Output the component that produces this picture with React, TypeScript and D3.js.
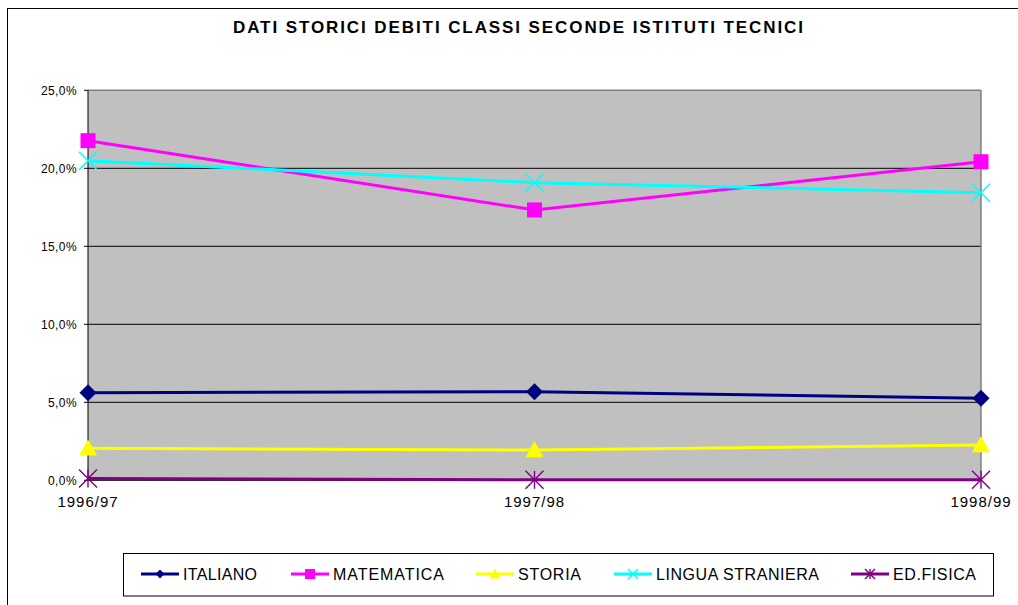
import React from "react";
import * as d3 from "d3";

const categories = ["1996/97", "1997/98", "1998/99"];
const seriesNames = ["ITALIANO", "MATEMATICA", "STORIA", "LINGUA STRANIERA", "ED.FISICA"];
const italiano = [0.0562, 0.0568, 0.0526];
const matematica = [0.2177, 0.1733, 0.2042];
const storia = [0.0205, 0.0194, 0.0226];
const linguaStraniera = [0.2049, 0.1908, 0.1844];
const edFisica = [0.0012, 0.0003, 0.0003];
const yTicks = [0, 0.05, 0.1, 0.15, 0.2, 0.25];
const title = "DATI STORICI DEBITI CLASSI SECONDE ISTITUTI TECNICI";

const colors = ["#000080", "#FF00FF", "#FFFF00", "#00FFFF", "#800080"];
const markers = ["diamond", "square", "triangle", "x", "star"];
const legendX = [141, 291, 476, 614, 851];
const legendTextW = [74, 111, 63, 163, 83];

const W = 1018, H = 605;
const plot = { left: 88, right: 981, top: 90.3, bottom: 480.3 };
const FONT = "'Liberation Sans', Arial, Helvetica, sans-serif";

function Marker({ type, cx, cy, color, s }: { type: string; cx: number; cy: number; color: string; s: number }) {
  if (type === "diamond") {
    const h = s / 2;
    return <path d={`M${cx},${cy - h}L${cx + h},${cy}L${cx},${cy + h}L${cx - h},${cy}Z`} fill={color} />;
  }
  if (type === "square") {
    return <rect x={cx - s / 2} y={cy - s / 2} width={s} height={s} fill={color} />;
  }
  if (type === "triangle") {
    const h = s * 0.9;
    return <path d={`M${cx},${cy - h * 0.55}L${cx + s / 2},${cy + h * 0.45}L${cx - s / 2},${cy + h * 0.45}Z`} fill={color} />;
  }
  const h = s / 2;
  return (
    <g stroke={color} strokeWidth={1.4} fill="none">
      <line x1={cx - h} y1={cy - h} x2={cx + h} y2={cy + h} />
      <line x1={cx - h} y1={cy + h} x2={cx + h} y2={cy - h} />
      {type === "star" && <line x1={cx} y1={cy - h} x2={cx} y2={cy + h} />}
    </g>
  );
}

export default function App() {
  const series = [italiano, matematica, storia, linguaStraniera, edFisica];
  const x = d3.scalePoint<string>().domain(categories).range([plot.left, plot.right]);
  const y = d3.scaleLinear().domain([0, 0.25]).range([plot.bottom, plot.top]);
  const line = d3
    .line<number>()
    .x((_, i) => x(categories[i]) as number)
    .y((d) => y(d));
  const fmt = (v: number) => (v * 100).toFixed(1).replace(".", ",") + "%";
  const mSize = [17, 15, 18, 18, 18];
  const lSize = [9, 10, 11, 10, 10];

  return (
    <svg width={W} height={H} style={{ position: "absolute", left: 0, top: 0, background: "#fff" }} fontFamily={FONT}>
      <rect x={7.5} y={8.5} width={1100} height={700} fill="#fff" stroke="#000" strokeWidth={1} />
      <text x={518} y={33} textAnchor="middle" fontSize={17} fontWeight="bold" textLength={570} lengthAdjust="spacing">
        {title}
      </text>
      <rect x={plot.left} y={plot.top} width={plot.right - plot.left} height={plot.bottom - plot.top} fill="#C0C0C0" />
      {yTicks.slice(1, -1).map((t) => (
        <line key={t} x1={plot.left} x2={plot.right} y1={y(t)} y2={y(t)} stroke="#000" strokeWidth={1} />
      ))}
      <line x1={plot.left} x2={plot.right} y1={plot.top} y2={plot.top} stroke="#808080" strokeWidth={1.5} />
      <line x1={plot.right} x2={plot.right} y1={plot.top} y2={plot.bottom} stroke="#808080" strokeWidth={1.5} />
      <line x1={plot.left} x2={plot.left} y1={plot.top} y2={plot.bottom} stroke="#000" strokeWidth={1} />
      <line x1={plot.left} x2={plot.right} y1={plot.bottom} y2={plot.bottom} stroke="#000" strokeWidth={1} />
      {yTicks.map((t) => (
        <g key={t}>
          <line x1={plot.left - 4} x2={plot.left} y1={y(t)} y2={y(t)} stroke="#000" />
          <text x={77} y={y(t)} dy="0.35em" textAnchor="end" fontSize={12} letterSpacing={0.4}>
            {fmt(t)}
          </text>
        </g>
      ))}
      {categories.map((c) => (
        <text key={c} x={x(c)} y={507} textAnchor="middle" fontSize={15} letterSpacing={1}>
          {c}
        </text>
      ))}
      {series.map((s, k) => (
        <g key={seriesNames[k]}>
          <path d={line(s) || ""} fill="none" stroke={colors[k]} strokeWidth={3} />
          {s.map((v, i) => (
            <Marker key={i} type={markers[k]} cx={x(categories[i]) as number} cy={y(v)} color={colors[k]} s={mSize[k]} />
          ))}
        </g>
      ))}
      <rect x={123.5} y={553.5} width={870} height={42.5} fill="#fff" stroke="#000" strokeWidth={1} />
      {seriesNames.map((n, k) => (
        <g key={n}>
          <line x1={legendX[k]} x2={legendX[k] + 38} y1={574} y2={574} stroke={colors[k]} strokeWidth={3} />
          <Marker type={markers[k]} cx={legendX[k] + 19} cy={574} color={colors[k]} s={lSize[k]} />
          <text x={legendX[k] + 42} y={580} fontSize={16} textLength={legendTextW[k]} lengthAdjust="spacing">
            {n}
          </text>
        </g>
      ))}
    </svg>
  );
}
